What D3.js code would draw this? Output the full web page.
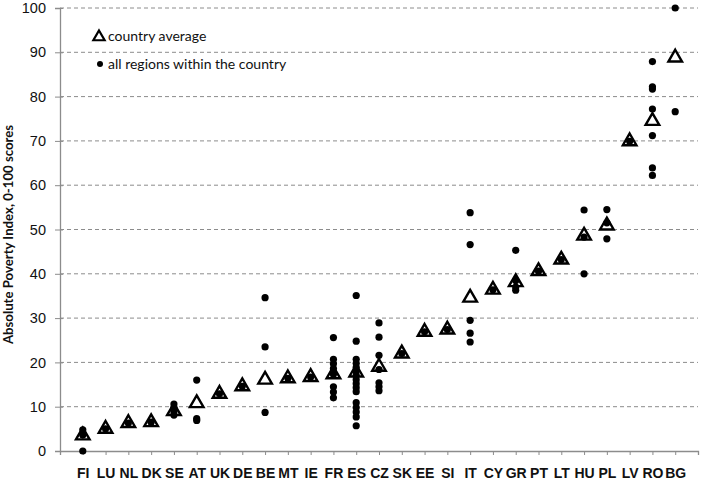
<!DOCTYPE html>
<html>
<head>
<meta charset="utf-8">
<script src="https://cdn.jsdelivr.net/npm/d3@7"></script>
<style>
  body { margin: 0; background: #fff; }
  svg { font-family: Lato, "Open Sans", sans-serif; }
</style>
</head>
<body>
<svg id="chart" width="702" height="480"></svg>
<script>
const countries = ["FI","LU","NL","DK","SE","AT","UK","DE","BE","MT","IE","FR","ES","CZ","SK","EE","SI","IT","CY","GR","PT","LT","HU","PL","LV","RO","BG"];

const averages = [3.5, 5.0, 6.3, 6.5, 9.0, 10.8, 12.9, 14.6, 16.1, 16.4, 16.7, 17.3, 17.7, 19.0, 22.0, 26.9, 27.4, 34.6, 36.4, 38.1, 40.6, 43.2, 48.6, 50.9, 69.9, 74.5, 88.8];

// regional scores, one list per country (same order as countries)
const regions = [
  [4.8, 3.6, 0],
  [5.0],
  [6.3],
  [6.5],
  [10.6, 9.8, 8.9, 8.1],
  [16.0, 7.3, 6.9],
  [12.9],
  [14.6],
  [34.6, 23.5, 8.7],
  [16.4],
  [16.7],
  [25.6, 20.7, 19.7, 18.6, 17.3, 14.5, 13.3, 12.0],
  [35.1, 24.8, 20.7, 19.8, 18.9, 18.0, 17.1, 16.1, 15.2, 14.3, 13.4, 10.9, 9.8, 8.8, 7.7, 5.7],
  [28.9, 25.7, 21.6, 18.4, 15.4, 14.5, 13.6],
  [22.0],
  [26.9],
  [27.4],
  [53.8, 46.6, 29.5, 26.6, 24.6],
  [36.4],
  [45.3, 38.5, 37.0, 36.3],
  [40.6],
  [43.2],
  [54.4, 48.3, 40.0],
  [54.5, 51.5, 47.9],
  [69.9],
  [87.9, 82.2, 81.7, 77.2, 71.2, 63.9, 62.2],
  [100, 76.6]
];

const yTicks = [0, 10, 20, 30, 40, 50, 60, 70, 80, 90, 100];

const svg = d3.select("#chart");
const margin = { top: 8, right: 4, bottom: 29, left: 60 };
const width = +svg.attr("width"), height = +svg.attr("height");

const x = d3.scalePoint()
  .domain(countries)
  .range([margin.left, width - margin.right])
  .padding(1);

const y = d3.scaleLinear()
  .domain([0, 100])
  .range([height - margin.bottom, margin.top]);

const axisColor = "#8c8c8c";

// dashed gridlines
svg.append("g")
  .selectAll("line")
  .data(yTicks.filter(d => d > 0))
  .join("line")
  .attr("x1", margin.left)
  .attr("x2", width - margin.right)
  .attr("y1", d => y(d))
  .attr("y2", d => y(d))
  .attr("stroke", axisColor)
  .attr("stroke-width", 1)
  .attr("stroke-dasharray", "4,3");

// y axis, ticks cross the line
const yAxis = svg.append("g")
  .attr("transform", `translate(${margin.left},0)`)
  .call(d3.axisLeft(y).tickValues(yTicks).tickSize(5).tickPadding(9));
yAxis.select(".domain").attr("stroke", axisColor).attr("stroke-width", 1.3);
yAxis.selectAll(".tick line").attr("stroke", axisColor).attr("x2", -5).attr("x1", 3);
yAxis.selectAll("text").attr("font-size", 14.5).attr("fill", "#111");

// x axis
const xAxis = svg.append("g")
  .attr("transform", `translate(0,${y(0)})`)
  .call(d3.axisBottom(x).tickSize(4).tickSizeOuter(4).tickPadding(13));
xAxis.select(".domain").attr("stroke", axisColor).attr("stroke-width", 1.3);
xAxis.selectAll(".tick line").attr("stroke", axisColor);
xAxis.selectAll("text").attr("font-size", 14).attr("font-weight", "bold").attr("fill", "#111");

// y title
svg.append("text")
  .attr("transform", `translate(13,${(y(0) + y(100)) / 2 + 5}) rotate(-90)`)
  .attr("text-anchor", "middle")
  .attr("font-size", 13.2)
  .attr("font-weight", "bold")
  .attr("fill", "#111")
  .text("Absolute Poverty Index, 0-100 scores");

const tri = d3.symbol(d3.symbolTriangle, 80);

// country averages (open triangles)
svg.append("g")
  .selectAll("path")
  .data(countries.map((c, i) => ({ c, v: averages[i] })))
  .join("path")
  .attr("d", tri)
  .attr("transform", d => `translate(${x(d.c)},${y(d.v)})`)
  .attr("fill", "#fff")
  .attr("stroke", "#000")
  .attr("stroke-width", 2.4);

// regions (dots)
const pts = [];
countries.forEach((c, i) => regions[i].forEach(v => pts.push({ c, v })));
svg.append("g")
  .selectAll("circle")
  .data(pts)
  .join("circle")
  .attr("cx", d => x(d.c))
  .attr("cy", d => y(d.v))
  .attr("r", 3.6)
  .attr("fill", "#000");

// legend
const lg = svg.append("g");
lg.append("path")
  .attr("d", d3.symbol(d3.symbolTriangle, 55))
  .attr("transform", "translate(99,37)")
  .attr("fill", "#fff")
  .attr("stroke", "#000")
  .attr("stroke-width", 2.2);
lg.append("text")
  .attr("x", 108).attr("y", 40.5)
  .attr("font-size", 14)
  .attr("fill", "#111")
  .text("country average");
lg.append("circle")
  .attr("cx", 100).attr("cy", 64).attr("r", 3)
  .attr("fill", "#000");
lg.append("text")
  .attr("x", 108).attr("y", 68.5)
  .attr("font-size", 14)
  .attr("fill", "#111")
  .text("all regions within the country");
</script>
</body>
</html>
